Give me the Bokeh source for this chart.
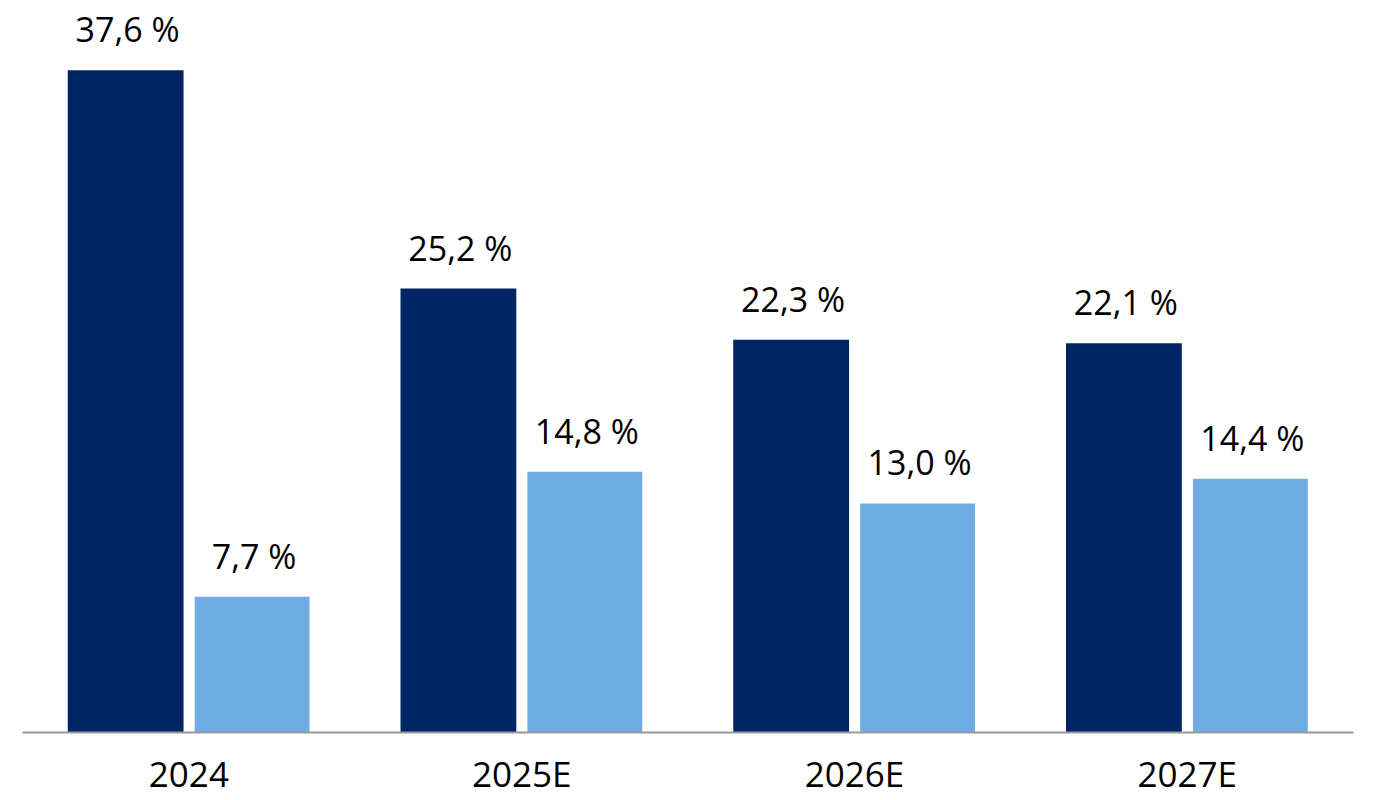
from bokeh.plotting import figure
from bokeh.models import ColumnDataSource, LabelSet, Range1d
from bokeh.core.properties import value
from bokeh.transform import dodge
from bokeh.embed import file_html
from bokeh.resources import INLINE

categories = ["2024", "2025E", "2026E", "2027E"]
series_dark = [37.6, 25.2, 22.3, 22.1]
series_light = [7.7, 14.8, 13.0, 14.4]

def fmt(v):
    return f"{v:.1f}".replace(".", ",") + " %"

src = ColumnDataSource(dict(
    cat=categories,
    dark=series_dark,
    light=series_light,
    dark_lbl=[fmt(v) for v in series_dark],
    light_lbl=[fmt(v) for v in series_light],
))

FONT = "Open Sans"

p = figure(x_range=categories, y_range=Range1d(0, 41.1),
           frame_width=1331, frame_height=724,
           output_backend="svg", toolbar_location=None,
           min_border_left=22, min_border_right=10, min_border_top=8, min_border_bottom=0)

p.vbar(x=dodge("cat", -0.19, range=p.x_range), top="dark", width=0.348, source=src,
       color="#002564", line_color=None)
p.vbar(x=dodge("cat", 0.19, range=p.x_range), top="light", width=0.345, source=src,
       color="#6EACE3", line_color=None)

for col, off in (("dark", -0.19), ("light", 0.19)):
    p.add_layout(LabelSet(x=dodge("cat", off, range=p.x_range), y=col, text=col + "_lbl",
                          source=src, text_align="center", text_baseline="alphabetic",
                          y_offset=28, text_font=value(FONT), text_font_size=value("34px"),
                          text_color="#000000", x_offset=2))

p.yaxis.visible = False
p.grid.visible = False
p.outline_line_color = None
p.xaxis.axis_line_color = "#999999"
p.xaxis.axis_line_width = 2
p.xaxis.major_tick_line_color = None
p.xaxis.minor_tick_line_color = None
p.xaxis.major_label_text_font = FONT
p.xaxis.major_label_text_font_size = "35px"
p.xaxis.major_label_text_color = "#000000"
p.xaxis.major_label_standoff = 11
p.x_range.range_padding = 0

open("out.html", "w").write(file_html(p, INLINE))
